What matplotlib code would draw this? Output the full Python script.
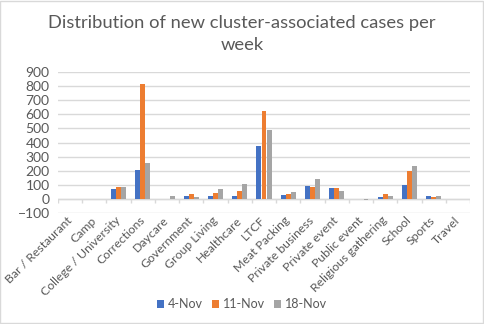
import matplotlib
matplotlib.use("Agg")
import matplotlib.pyplot as plt
import numpy as np

plt.rcParams['font.family'] = ['Lato', 'DejaVu Sans']

categories = ["Bar / Restaurant", "Camp", "College / University", "Corrections",
              "Daycare", "Government", "Group Living", "Healthcare", "LTCF",
              "Meat Packing", "Private business", "Private event", "Public event",
              "Religious gathering", "School", "Sports", "Travel"]
nov4 = [0, 0, 73, 203, 0, 19, 19, 19, 378, 26, 90, 76, 0, 12, 97, 19, 0]
nov11 = [0, 0, 83, 813, 0, 33, 45, 54, 622, 33, 83, 76, 0, 33, 196, 12, 0]
nov18 = [0, 0, 83, 253, 19, 12, 69, 104, 487, 47, 139, 54, -10, 19, 232, 19, 0]
series = [("4-Nov", nov4, "#4472C4"), ("11-Nov", nov11, "#ED7D31"), ("18-Nov", nov18, "#A5A5A5")]

txt = "#595959"
fig = plt.figure(figsize=(4.84, 3.24), dpi=100)
ax = fig.add_axes([58/484, 1 - 213/324, 412/484, 141/324])

x = np.arange(len(categories))
w = 0.2
for i, (name, vals, col) in enumerate(series):
    ax.bar(x + (i - 1) * w * 1.05, vals, width=w, color=col, label=name, zorder=3)

ax.set_xlim(-0.5, len(categories) - 0.5)
ax.set_ylim(-100, 900)
ax.set_yticks(range(-100, 901, 100))
ax.yaxis.grid(True, color="#D9D9D9", linewidth=1, zorder=0)
for s in ax.spines.values():
    s.set_visible(False)
ax.axhline(0, color="#D9D9D9", linewidth=1, zorder=2)
ax.vlines(np.arange(len(categories) + 1) - 0.5, -28, 0, color="#D9D9D9", linewidth=1, zorder=2)

ax.set_xticks(x)
ax.set_xticklabels(categories, rotation=45, ha="right", va="center", rotation_mode="anchor")
ax.tick_params(axis="y", length=0, labelsize=10, labelcolor=txt, pad=6)
ax.tick_params(axis="x", length=0, labelsize=8.8, labelcolor=txt, pad=4)

fig.text(0.5, 1 - 34/324, "Distribution of new cluster-associated cases per\nweek",
         ha="center", va="center", fontsize=13.2, color=txt, linespacing=1.4)
fig.legend(loc="center", bbox_to_anchor=(0.5, 1 - 304/324), ncol=3, frameon=False,
           fontsize=9, labelcolor=txt, handlelength=0.6, handleheight=0.6,
           handletextpad=0.3, columnspacing=0.7)

fig.patches.append(plt.Rectangle((0.001, 0.002), 0.997, 0.995, transform=fig.transFigure,
                                 fill=False, edgecolor="#D9D9D9", linewidth=1))
fig.savefig("out.png", dpi=100)
